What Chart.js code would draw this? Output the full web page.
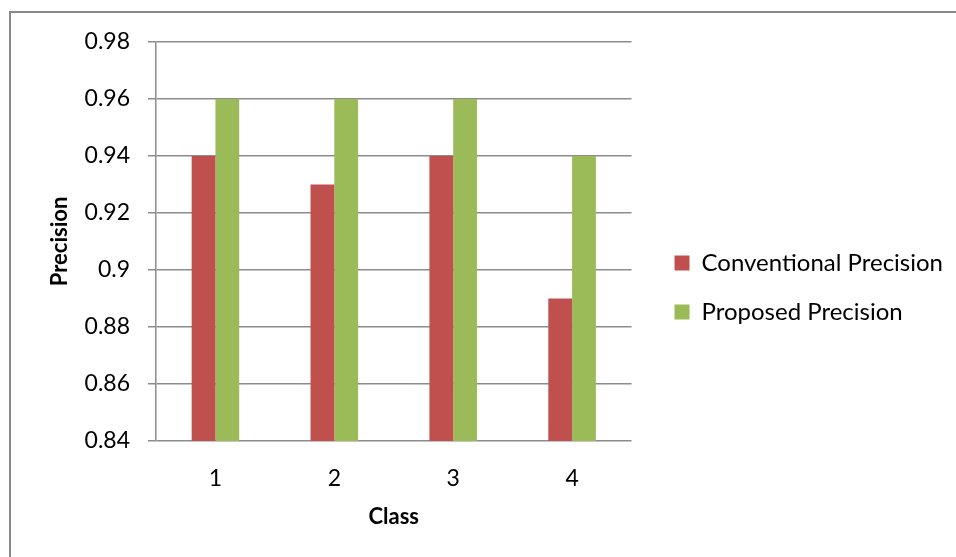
<!DOCTYPE html>
<html lang="en">
<head>
  <meta charset="UTF-8">
  <title>Precision by Class</title>
  <script src="https://cdn.jsdelivr.net/npm/chart.js"></script>
  <style>
    html, body { margin: 0; padding: 0; background: #fff; }
    #frame {
      position: absolute; left: 9px; top: 11px; width: 980px; height: 580px;
      border: 2px solid #898989; box-sizing: border-box;
    }
    #wrap { position: absolute; left: 0; top: 0; width: 956px; height: 557px; }
  </style>
</head>
<body>
  <div id="frame"></div>
  <div id="wrap"><canvas id="chart" width="956" height="557"></canvas></div>

  <script>
    const classes = ['1', '2', '3', '4']
    const conventional = [0.94, 0.93, 0.94, 0.89]
    const proposed = [0.96, 0.96, 0.96, 0.94]
    const seriesNames = ['Conventional Precision', 'Proposed Precision']
    const yMin = 0.84, yMax = 0.98, yStep = 0.02

    const fontFam = "Lato, 'Open Sans', sans-serif"
    const gridColor = '#8c8c8c'

    // push the legend a bit away from the plot, like the Excel original
    const legendGap = {
      id: 'legendGap',
      afterLayout(chart) {
        const lg = chart.legend
        if (!lg) return
        lg.left += 18
        lg.right += 18
      }
    }

    new Chart(document.getElementById('chart'), {
      type: 'bar',
      data: {
        labels: classes,
        datasets: [{
          label: seriesNames[0],
          data: conventional,
          backgroundColor: '#C0504D',
          categoryPercentage: 0.4,
          barPercentage: 1
        }, {
          label: seriesNames[1],
          data: proposed,
          backgroundColor: '#9BBB59',
          categoryPercentage: 0.4,
          barPercentage: 1
        }]
      },
      plugins: [legendGap],
      options: {
        responsive: false,
        animation: false,
        layout: { padding: { top: 42, bottom: 24, left: 0, right: 21 } },
        plugins: {
          legend: {
            position: 'right',
            maxWidth: 420,
            labels: {
              boxWidth: 15, boxHeight: 15, padding: 25,
              color: '#000',
              font: { family: fontFam, size: 24 }
            }
          },
          tooltip: { enabled: false }
        },
        scales: {
          x: {
            grid: { display: false, drawTicks: false },
            border: { display: false },
            ticks: { color: '#000', padding: 24, font: { family: fontFam, size: 23 } },
            title: {
              display: true, text: 'Class', color: '#000',
              font: { family: fontFam, size: 22, weight: 'bold' },
              padding: { top: 0, bottom: 3 }
            },
            afterFit: s => { s.height = 92 }
          },
          y: {
            min: yMin, max: yMax,
            ticks: {
              stepSize: yStep, color: '#000', padding: 18,
              font: { family: fontFam, size: 23 },
              callback: v => String(+v.toFixed(2))
            },
            grid: { color: gridColor, lineWidth: 1.5, tickLength: 8, tickColor: gridColor },
            border: { color: gridColor, width: 1.5 },
            title: {
              display: true, text: 'Precision', color: '#000',
              font: { family: fontFam, size: 22, weight: 'bold' },
              padding: { top: 47, bottom: 0 }
            },
            afterFit: s => { s.width = 156 }
          }
        }
      }
    })
  </script>
</body>
</html>
